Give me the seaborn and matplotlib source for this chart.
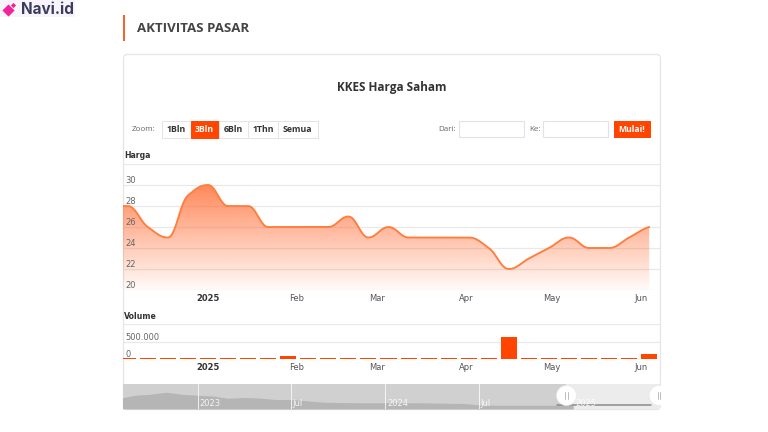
import numpy as np
import pandas as pd
import matplotlib
matplotlib.use("Agg")
import matplotlib.pyplot as plt
import matplotlib.dates as mdates
from matplotlib.patches import Rectangle, FancyBboxPatch, Polygon, Circle
import seaborn as sns

# ---- data ----
week_dates = pd.date_range("2024-11-27", "2025-06-04", freq="7D")
price = [28, 28, 26, 25, 29, 30, 28, 28, 26, 26, 26, 26, 27, 25, 26, 25, 25, 25, 25, 24,
         22, 23, 24, 25, 24, 24, 25, 26]
volume = [25000, 25000, 25000, 25000, 25000, 25000, 25000, 25000, 25000, 100000, 25000, 25000,
          25000, 25000, 25000, 25000, 25000, 25000, 25000, 25000, 630000, 25000, 25000, 25000,
          25000, 25000, 40000, 130000]
price_ticks = [20, 22, 24, 26, 28, 30, 32]
price_labels = ["20", "22", "24", "26", "28", "30"]
volume_ticks = [0, 500000, 1000000]
volume_labels = ["0", "500.000"]
month_ticks = ["2025-01-01", "2025-02-01", "2025-03-01", "2025-04-01", "2025-05-01", "2025-06-01"]
month_labels = ["2025", "Feb", "Mar", "Apr", "May", "Jun"]
nav_dates = pd.date_range("2022-08-01", "2025-06-01", freq="MS")
nav_values = [84, 110, 118, 134, 118, 110, 104, 86, 92, 88, 76, 76, 66, 55, 52, 50, 50, 50, 50, 50,
              48, 46, 44, 34, 30, 30, 30, 30, 30, 30, 30, 30, 30, 30, 30][:len(nav_dates)]
nav_ticks = ["2023-01-01", "2023-07-01", "2024-01-01", "2024-07-01", "2025-01-01"]
nav_labels = ["2023", "Jul", "2024", "Jul", "2025"]
range_buttons = ["1Bln", "3Bln", "6Bln", "1Thn", "Semua"]

ORANGE = "#ff4500"
LINE = "#ff7d3d"
GRID = "#e8e8e8"
UI_FONT = "Open Sans"
sns.set_theme(style="white", rc={"font.family": "DejaVu Sans", "axes.grid": False})

W, H = 768, 432
fig = plt.figure(figsize=(W / 100, H / 100), dpi=100, facecolor="white")


def px_axes(x0, y0, x1, y1, z=1):
    a = fig.add_axes([x0 / W, 1 - y1 / H, (x1 - x0) / W, (y1 - y0) / H], zorder=z)
    a.patch.set_alpha(0)
    for s in a.spines.values():
        s.set_visible(False)
    return a


def smooth_curve(xs, ys, n=24):
    """Rendering of the line as monotone Bezier segments through the data points."""
    xs, ys = np.asarray(xs, float), np.asarray(ys, float)
    d = np.diff(ys)
    m = np.zeros(len(ys))
    for i in range(1, len(ys) - 1):
        if d[i - 1] * d[i] > 0:
            m[i] = 2 * d[i - 1] * d[i] / (d[i - 1] + d[i])
    m[-1] = d[-1] * 0.6
    t = np.linspace(0, 1, n, endpoint=False)[:, None]
    out = []
    for i in range(len(xs) - 1):
        h = xs[i + 1] - xs[i]
        p0 = np.array([xs[i], ys[i]])
        p3 = np.array([xs[i + 1], ys[i + 1]])
        p1 = np.array([xs[i] + 0.4 * h, ys[i] + 0.4 * m[i]])
        p2 = np.array([xs[i + 1] - 0.4 * h, ys[i + 1] - 0.4 * m[i + 1]])
        out.append((1 - t) ** 3 * p0 + 3 * (1 - t) ** 2 * t * p1 + 3 * (1 - t) * t ** 2 * p2 + t ** 3 * p3)
    out.append(np.array([[xs[-1], ys[-1]]]))
    return np.vstack(out)


# ---- page chrome ----
bg = px_axes(0, 0, W, H, z=0)
bg.set_xlim(0, W); bg.set_ylim(H, 0); bg.axis("off")
bg.add_patch(FancyBboxPatch((123.5, 54.5), 537, 355, boxstyle="round,pad=0,rounding_size=4",
                            fc="white", ec="#e6e6e6", lw=0.9))
bg.add_patch(Rectangle((122.5, 15), 2, 26, fc="#f4622e", ec="none", zorder=5))
bg.add_patch(Rectangle((0, 0), 75, 17, fc="#f7f5fb", ec="none"))
bg.text(137, 28, "AKTIVITAS PASAR", family=UI_FONT, weight="bold", fontsize=9.5, color="#444444", va="center")
bg.text(391.5, 87, "KKES Harga Saham", family=UI_FONT, weight="bold", fontsize=8.5, color="#333333",
        va="center", ha="center")
bg.scatter([7.5], [10], marker="D", s=38, color="#f5209b", lw=0)
bg.scatter([13], [4.5], marker="D", s=7, color="#f5209b", lw=0)
bg.text(21, 9, "Navi.id", family="Inter", weight="bold", fontsize=11, color="#3b3b5e", va="center")

bg.text(156, 129.5, "Zoom:", family=UI_FONT, fontsize=5.8, color="#666666", va="center", ha="right")
edges = [162, 190.5, 219, 248, 278, 317.5]
for i, name in enumerate(range_buttons):
    on = name == "3Bln"
    bg.add_patch(Rectangle((edges[i], 121), edges[i + 1] - edges[i], 16.6, fc=ORANGE if on else "white",
                           ec=ORANGE if on else "#e4e4e4", lw=0.7))
    bg.text((edges[i] + edges[i + 1]) / 2, 129.6, name, family=UI_FONT, weight="bold", fontsize=6.3,
            color="white" if on else "#333333", ha="center", va="center")
bg.text(455.5, 129.5, "Dari:", family=UI_FONT, fontsize=5.8, color="#666666", va="center", ha="right")
bg.text(540.5, 129.5, "Ke:", family=UI_FONT, fontsize=5.8, color="#666666", va="center", ha="right")
for x0 in (458.5, 542.5):
    bg.add_patch(Rectangle((x0, 121.2), 65, 16.2, fc="white", ec="#dde3ea", lw=0.8))
bg.add_patch(Rectangle((613.5, 121), 37, 16.8, fc=ORANGE, ec="none"))
bg.text(632, 129.6, "Mulai!", family=UI_FONT, weight="bold", fontsize=6.2, color="white", ha="center", va="center")
bg.text(124, 156, "Harga", weight="bold", fontsize=5.6, color="#333333", va="center")
bg.text(124, 316.5, "Volume", weight="bold", fontsize=5.6, color="#333333", va="center")

# ---- shared time scale ----
xnum = mdates.date2num(week_dates)
tick_num = mdates.date2num(pd.to_datetime(month_ticks))
jan1 = tick_num[0]
xlim = (jan1 - 85 / 2.865, jan1 + 452 / 2.865)


def style_time(a):
    a.set_xlim(*xlim)
    a.set_xticks(tick_num, month_labels)
    a.tick_params(axis="x", length=0, pad=3, labelsize=6, labelcolor="#555555")
    a.get_xticklabels()[0].set_fontweight("bold")
    a.get_xticklabels()[0].set_color("#333333")
    a.tick_params(axis="y", length=0, labelleft=False)
    a.set_xlabel(""); a.set_ylabel("")
    a.grid(axis="y", color=GRID, lw=0.9); a.grid(axis="x", visible=False)
    a.set_axisbelow(True)


# ---- price panel ----
ax = px_axes(123, 164, 660, 290, z=1)
curve = smooth_curve(xnum, price)
curve_df = pd.DataFrame({"date": curve[:, 0], "harga": curve[:, 1]})
rgba = np.zeros((256, 1, 4))
rgba[..., :3] = matplotlib.colors.to_rgb("#ff6a30")
rgba[..., 3] = np.linspace(0.80, 0.03, 256)[:, None]
im = ax.imshow(rgba, extent=(xlim[0], xlim[1], 20, 30), origin="upper", aspect="auto", zorder=1)
clip = Polygon(np.vstack([curve, [curve[-1, 0], 20], [curve[0, 0], 20]]), transform=ax.transData, fc="none", ec="none")
ax.add_patch(clip)
im.set_clip_path(clip)
sns.lineplot(data=curve_df, x="date", y="harga", sort=False, estimator=None, color=LINE, lw=1.35, ax=ax, zorder=3)
ax.set_ylim(20, 32)
ax.set_yticks(price_ticks)
style_time(ax)
for v, s in zip(price_ticks, price_labels):
    ax.annotate(s, (xlim[0], v), xytext=(1.6, 3), textcoords="offset points", fontsize=6, color="#666666",
                va="center", ha="left", zorder=5)

# ---- volume panel ----
ax2 = px_axes(123, 324, 660, 359, z=1)
sns.barplot(x=xnum, y=volume, native_scale=True, width=0.8, color=ORANGE, saturation=1, ax=ax2, zorder=3, lw=0)
ax2.set_ylim(0, 1000000)
ax2.set_yticks(volume_ticks)
style_time(ax2)
for v, s in zip(volume_ticks, volume_labels):
    ax2.annotate(s, (xlim[0], v), xytext=(1.6, 3), textcoords="offset points", fontsize=6, color="#666666",
                 va="center", ha="left", zorder=5)

# ---- navigator ----
nx0, nx1 = 123, 660
day_px = 0.514
ref = mdates.date2num(pd.Timestamp(nav_ticks[0]))
nlim = (ref - (197.5 - nx0) / day_px, ref + (nx1 - 197.5) / day_px)
ax3 = px_axes(nx0, 384, nx1, 409, z=1)
nav_x = mdates.date2num(nav_dates)
sel = ref + (566 - 197.5) / day_px
ax3.axvspan(nlim[0], sel, color="#d0d0d0", lw=0, zorder=0)
ax3.axvspan(sel, nlim[1], color="#ececec", lw=0, zorder=0)
ax3.fill_between(nav_x, 0, nav_values, where=nav_x <= sel + 31, color="#b5b5b5", lw=0, zorder=1)
nav_df = pd.DataFrame({"date": nav_x, "v": nav_values})
sns.lineplot(data=nav_df[nav_df.date >= sel - 31], x="date", y="v", color="#8a8a8a", lw=1.1, ax=ax3, zorder=2)
ax3.set_xlim(*nlim); ax3.set_ylim(0, 200)
ax3.set_xticks([]); ax3.set_yticks([]); ax3.set_xlabel(""); ax3.set_ylabel("")
for d, s in zip(mdates.date2num(pd.to_datetime(nav_ticks)), nav_labels):
    if d < sel:
        ax3.axvline(d, color="white", lw=0.7, alpha=0.8, zorder=3)
    ax3.annotate(s, (d, 0), xytext=(1.5, 4), textcoords="offset points", fontsize=6,
                 color="white", alpha=0.85, va="center", ha="left", zorder=4)

# ---- range handles on top ----
fg = px_axes(0, 0, W, H, z=3)
fg.set_xlim(0, W); fg.set_ylim(H, 0); fg.axis("off")
for cx in (566.5, 659):
    fg.add_patch(Circle((cx, 395.5), 10, fc="white", ec="#e8e8e8", lw=0.5))
    fg.plot([cx - 1.2, cx - 1.2], [392, 399], color="#bbbbbb", lw=0.7)
    fg.plot([cx + 1.2, cx + 1.2], [392, 399], color="#bbbbbb", lw=0.7)
fg.add_patch(Rectangle((661, 380), 107, 34, fc="white", ec="none"))

fig.savefig("out.png", dpi=100)
